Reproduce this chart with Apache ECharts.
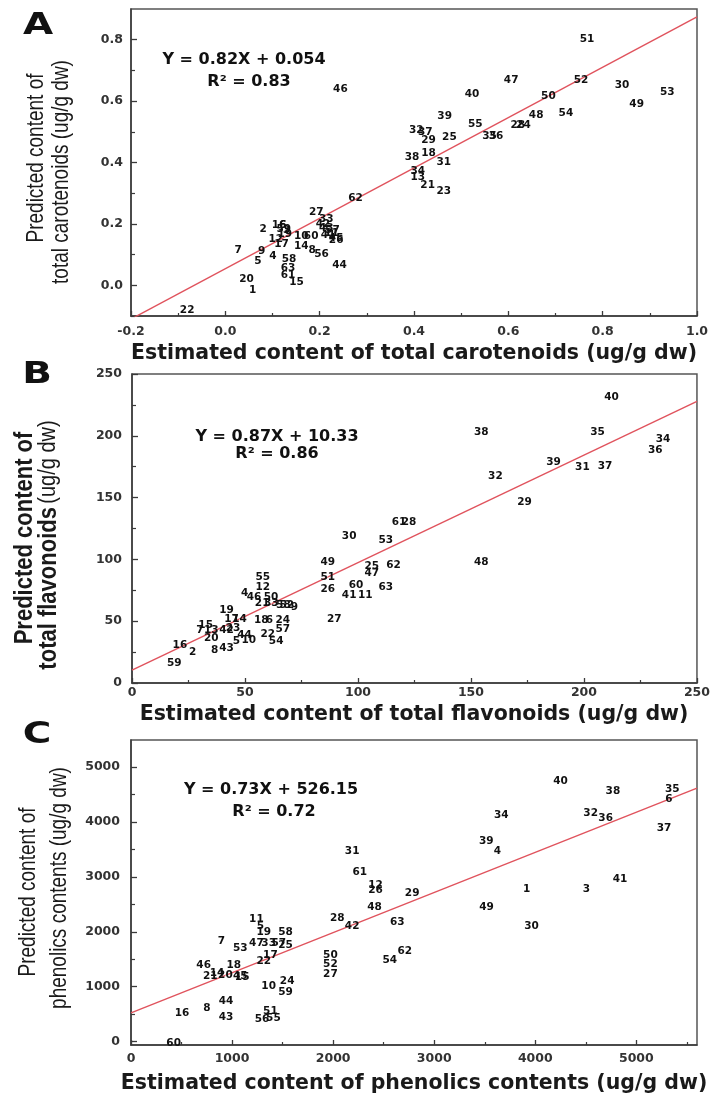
<!DOCTYPE html>
<html><head><meta charset="utf-8">
<script src="https://cdn.jsdelivr.net/npm/echarts@6/dist/echarts.min.js"></script>
<style>html,body{margin:0;padding:0;background:#fff}#c{width:713px;height:1097px}</style>
</head><body><div id="c"></div>
<script>
// ---------- Panel A: total carotenoids ----------
const caroLabels = ['51','47','52','30','53','40','50','49','39','48','54','55','28','24','32','37','29','25','35','36','38','18','31','34','13','21','23','46','62','27','33','42','43','57','41','45','26','11','2','16','6','3','59','12','17','19','10','60','7','9','4','5','58','63','61','15','20','1','22','14','8','56','44'];
const caroEst = [0.767,0.606,0.754,0.841,0.937,0.523,0.685,0.872,0.465,0.659,0.722,0.530,0.620,0.632,0.405,0.424,0.431,0.475,0.560,0.574,0.396,0.431,0.463,0.408,0.408,0.429,0.463,0.244,0.276,0.193,0.214,0.207,0.214,0.227,0.218,0.235,0.235,0.225,0.080,0.114,0.122,0.130,0.124,0.107,0.119,0.126,0.161,0.182,0.027,0.077,0.101,0.069,0.135,0.133,0.133,0.151,0.045,0.058,-0.081,0.161,0.184,0.204,0.242];
const caroPred = [0.803,0.669,0.669,0.650,0.629,0.621,0.616,0.591,0.552,0.555,0.560,0.525,0.522,0.520,0.506,0.498,0.473,0.482,0.487,0.484,0.417,0.430,0.400,0.371,0.351,0.326,0.306,0.637,0.284,0.237,0.215,0.199,0.186,0.179,0.164,0.153,0.147,0.170,0.183,0.196,0.196,0.180,0.183,0.150,0.134,0.165,0.159,0.159,0.115,0.110,0.094,0.077,0.085,0.054,0.033,0.009,0.020,-0.015,-0.081,0.126,0.115,0.101,0.065];
const caroFit = [0.82, 0.054];
const caroXTicks = [-0.2,0,0.2,0.4,0.6,0.8,1.0];
const caroXMinor = [-0.1,0.1,0.3,0.5,0.7,0.9];
const caroYTicks = [0,0.2,0.4,0.6,0.8];
const caroYMinor = [-0.1,0.1,0.3,0.5,0.7];

// ---------- Panel B: total flavonoids ----------
const flavLabels = ['40','38','35','34','36','39','31','37','32','29','61','28','53','48','62','25','47','60','63','11','41','30','49','51','26','27','55','12','4','46','50','21','33','58','52','9','19','17','14','18','6','24','57','22','54','15','7','13','42','23','20','44','5','10','8','43','16','2','59'];
const flavEst = [212.2,154.6,206.0,235.0,231.6,186.5,199.3,209.3,160.8,173.7,118.2,122.6,112.3,154.6,115.7,106.1,106.1,99.1,112.3,103.2,96.1,96.1,86.6,86.6,86.6,89.5,57.9,57.9,49.8,54.0,61.5,57.6,61.6,67.0,68.5,71.9,41.8,44.0,47.6,57.2,60.8,66.7,66.7,60.1,63.8,32.6,30.0,35.1,41.8,44.7,35.1,49.8,46.2,51.7,36.6,41.8,21.2,26.8,18.7];
const flavPred = [231.1,202.7,202.7,197.3,187.9,178.4,174.3,175.1,167.0,145.9,129.7,129.7,115.7,97.6,95.4,94.1,88.7,79.2,77.8,71.1,71.1,118.4,97.6,85.9,75.7,51.4,85.9,77.8,72.5,69.4,69.7,64.4,64.4,63.0,63.0,61.6,58.9,51.6,51.6,50.8,50.8,50.8,43.3,39.5,34.1,46.8,42.7,42.7,42.7,44.1,36.5,38.7,34.1,34.6,26.5,27.9,30.6,25.1,16.2];
const flavFit = [0.87, 10.33];
const flavXTicks = [0,50,100,150,200,250];
const flavXMinor = [25,75,125,175,225];
const flavYTicks = [0,50,100,150,200,250];
const flavYMinor = [25,75,125,175,225];

// ---------- Panel C: phenolics contents ----------
const phenLabels = ['40','38','35','6','34','32','36','37','39','4','31','61','12','26','29','1','3','41','49','48','30','63','62','54','42','28','50','52','27','11','5','19','58','7','53','47','33','57','25','17','22','46','18','21','14','20','45','15','10','24','59','44','16','8','43','51','56','55','60'];
const phenEst = [4250,4768,5356,5323,3663,4548,4696,5273,3515,3624,2188,2264,2419,2419,2782,3914,4505,4838,3518,2409,3963,2634,2709,2560,2188,2040,1973,1973,1973,1241,1280,1313,1528,894,1082,1241,1362,1462,1528,1379,1313,719,1016,785,851,934,1082,1100,1362,1545,1528,941,505,752,941,1379,1297,1409,422];
const phenPred = [4745,4558,4595,4407,4122,4164,4073,3880,3649,3467,3473,3091,2849,2758,2698,2771,2771,2958,2455,2444,2109,2171,1649,1485,2104,2244,1576,1413,1231,2225,2109,1989,1989,1836,1698,1789,1789,1789,1758,1576,1455,1382,1395,1195,1250,1200,1195,1170,1013,1091,891,727,516,607,436,558,407,430,-29];
const phenFit = [0.73, 526.15];
const phenXTicks = [0,1000,2000,3000,4000,5000];
const phenXMinor = [500,1500,2500,3500,4500,5500];
const phenYTicks = [0,1000,2000,3000,4000,5000];
const phenYMinor = [500,1500,2500,3500,4500];

const FONT = '"DejaVu Sans", sans-serif';
const AX = '#3a3a3a';

const panels = [
  {grid:{left:131,top:9,width:566,height:307}, x:[-0.2,1.0], y:[-0.1,0.9],
   xT:caroXTicks,xM:caroXMinor,yT:caroYTicks,yM:caroYMinor, fmt:v=>v.toFixed(1), xm:9, ym:8,
   L:caroLabels,X:caroEst,Y:caroPred,F:caroFit},
  {grid:{left:132,top:374,width:567,height:309}, x:[0,250], y:[0,250],
   xT:flavXTicks,xM:flavXMinor,yT:flavYTicks,yM:flavYMinor, fmt:v=>String(Math.round(v)), xm:3, ym:10,
   L:flavLabels,X:flavEst,Y:flavPred,F:flavFit},
  {grid:{left:131,top:740,width:566,height:305}, x:[0,5600], y:[-60,5490],
   xT:phenXTicks,xM:phenXMinor,yT:phenYTicks,yM:phenYMinor, fmt:v=>String(Math.round(v)), xm:7, ym:11,
   L:phenLabels,X:phenEst,Y:phenPred,F:phenFit}
];

const grid=[], xAxis=[], yAxis=[], series=[];
panels.forEach((p,i)=>{
  grid.push(Object.assign({show:true,borderColor:'#555',borderWidth:1.5,containLabel:false},p.grid));
  const lab = {fontFamily:FONT,fontWeight:'bold',fontSize:12.5,color:'#333'};
  xAxis.push({type:'value',gridIndex:i,min:p.x[0],max:p.x[1],position:'bottom',
    axisLine:{show:true,onZero:false,lineStyle:{color:AX,width:1.5}},
    axisTick:{show:true,inside:true,length:5,customValues:p.xT,lineStyle:{color:AX,width:1.3}},
    axisLabel:{show:true,customValues:p.xT,margin:p.xm,formatter:p.fmt,...lab},
    splitLine:{show:false}});
  xAxis.push({type:'value',gridIndex:i,min:p.x[0],max:p.x[1],position:'bottom',
    axisLine:{show:false,onZero:false},axisLabel:{show:false},splitLine:{show:false},
    axisTick:{show:true,inside:true,length:3,customValues:p.xM,lineStyle:{color:AX,width:1.2}}});
  yAxis.push({type:'value',gridIndex:i,min:p.y[0],max:p.y[1],position:'left',
    axisLine:{show:true,onZero:false,lineStyle:{color:AX,width:1.5}},
    axisTick:{show:true,inside:true,length:6,customValues:p.yT,lineStyle:{color:AX,width:1.3}},
    axisLabel:{show:true,customValues:p.yT,margin:p.ym,formatter:p.fmt,...lab},
    splitLine:{show:false}});
  yAxis.push({type:'value',gridIndex:i,min:p.y[0],max:p.y[1],position:'left',
    axisLine:{show:false,onZero:false},axisLabel:{show:false},splitLine:{show:false},
    axisTick:{show:true,inside:true,length:4,customValues:p.yM,lineStyle:{color:AX,width:1.2}}});
  const a=p.F[0], b=p.F[1];
  series.push({type:'line',xAxisIndex:2*i,yAxisIndex:2*i,symbol:'none',silent:true,clip:true,
    data:[[p.x[0],a*p.x[0]+b],[p.x[1],a*p.x[1]+b]],
    lineStyle:{color:'#e0535d',width:1.4},z:2});
  series.push({type:'scatter',xAxisIndex:2*i,yAxisIndex:2*i,symbolSize:1,silent:true,
    itemStyle:{color:'#fff',opacity:1},
    data:p.L.map((l,k)=>[p.X[k],p.Y[k],l]),
    label:{show:true,position:'inside',formatter:q=>q.value[2],fontFamily:FONT,fontWeight:'bold',fontSize:10.5,color:'#111',opacity:1},
    z:3});
});

function T(x,y,text,size,opts){
  return Object.assign({type:'text',x:x,y:y,silent:true,z:10,
    style:Object.assign({text:text,fontFamily:FONT,fontWeight:'bold',fontSize:size,fill:'#111',align:'center',verticalAlign:'middle'},(opts&&opts.style)||{})},
    opts&&opts.el||{});
}
const SANS='"Liberation Sans", Arial, sans-serif';
const R90=Math.PI/2;
const graphic=[
  T(38,26,'A',30,{el:{scaleX:1.3}}),
  T(37,375,'B',30,{el:{scaleX:1.3}}),
  T(37,735,'C',30,{el:{scaleX:1.3}}),
  T(244,60,'Y = 0.82X + 0.054',16),
  T(249,82,'R\u00b2 = 0.83',16),
  T(277,437,'Y = 0.87X + 10.33',16),
  T(277,454,'R\u00b2 = 0.86',16),
  T(271,790,'Y = 0.73X + 526.15',16),
  T(274,812,'R\u00b2 = 0.72',16),
  T(414,354,'Estimated content of total carotenoids (ug/g dw)',20.5,{style:{fill:'#1a1a1a'}}),
  T(414,715,'Estimated content of total flavonoids (ug/g dw)',20.5,{style:{fill:'#1a1a1a'}}),
  T(414,1084,'Estimated content of phenolics contents (ug/g dw)',20.5,{style:{fill:'#1a1a1a'}}),
  T(36,158,'Predicted content of',19,{el:{rotation:R90,scaleY:1.25},style:{fontFamily:SANS,fontWeight:'normal',fill:'#1a1a1a'}}),
  T(61,172,'total carotenoids (ug/g dw)',19,{el:{rotation:R90,scaleY:1.25},style:{fontFamily:SANS,fontWeight:'normal',fill:'#1a1a1a'}}),
  T(25,538,'Predicted content of',22,{el:{rotation:R90,scaleY:1.15},style:{fontFamily:SANS,fill:'#1a1a1a'}}),
  {type:'text',x:49,y:545,rotation:R90,scaleY:1.15,silent:true,z:10,
   style:{text:'{b|total flavonoids} {r|(ug/g dw)}',align:'center',verticalAlign:'middle',
     rich:{b:{fontFamily:SANS,fontWeight:'bold',fontSize:22,fill:'#1a1a1a'},
           r:{fontFamily:SANS,fontWeight:'normal',fontSize:20,fill:'#1a1a1a'}}}},
  T(28,892,'Predicted content of',19,{el:{rotation:R90,scaleY:1.25},style:{fontFamily:SANS,fontWeight:'normal',fill:'#1a1a1a'}}),
  T(59,888,'phenolics contents (ug/g dw)',19,{el:{rotation:R90,scaleY:1.25},style:{fontFamily:SANS,fontWeight:'normal',fill:'#1a1a1a'}})
];

const chart = echarts.init(document.getElementById('c'),null,{renderer:'canvas'});
chart.setOption({backgroundColor:'#fff',animation:false,grid,xAxis,yAxis,series,graphic});
</script></body></html>
